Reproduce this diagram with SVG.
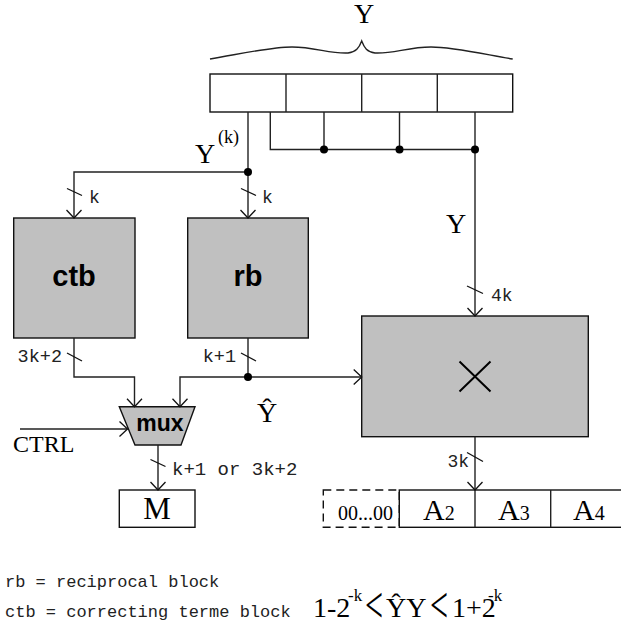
<svg xmlns="http://www.w3.org/2000/svg" width="621" height="633" viewBox="0 0 621 633">
<style>
.ln{fill:none;stroke:#222;stroke-width:1.4}
.bx{fill:#fff;stroke:#111;stroke-width:1.4}
.gb{fill:#c0c0c0;stroke:#111;stroke-width:1.4}
.tk{stroke:#111;stroke-width:1.3}
.dot{fill:#000}
.ser{font-family:"Liberation Serif","Times New Roman",serif;fill:#000}
.mono{font-family:"Liberation Mono","Courier New",monospace;fill:#222}
.bold{font-family:"Liberation Sans",Arial,sans-serif;font-weight:bold;fill:#000}
</style>
<defs>
<marker id="ar" viewBox="-10 -10 20 20" refX="0" refY="0" markerWidth="20" markerHeight="20" markerUnits="userSpaceOnUse" orient="auto" overflow="visible">
<path d="M-8,-7.5 L0,0 L-8,7.5" fill="none" stroke="#111" stroke-width="1.3"/>
</marker>
</defs>

<g id="brace">
<path class="ln" d="M210,59 C240,54 270,47 292,47 C315,47 330,54 348,53 C356,52 359,48 361.7,41 C364.4,48 367,52 375,53 C393,54 408,47 431,47 C453,47 483,54 512.7,59"/>
<text class="ser" x="364" y="23" font-size="28" text-anchor="middle">Y</text>
</g>

<g id="registerY">
<rect class="bx" x="210" y="74" width="302.7" height="38"/>
<line class="ln" x1="286" y1="74" x2="286" y2="112"/>
<line class="ln" x1="361.7" y1="74" x2="361.7" y2="112"/>
<line class="ln" x1="437.3" y1="74" x2="437.3" y2="112"/>
</g>

<g id="ctb">
<rect class="gb" x="13.7" y="218" width="121.3" height="120"/>
<text class="bold" x="74" y="286" font-size="29" text-anchor="middle">ctb</text>
</g>

<g id="rb">
<rect class="gb" x="187.7" y="218" width="120.6" height="120"/>
<text class="bold" x="248" y="286" font-size="29" text-anchor="middle">rb</text>
</g>

<g id="mux">
<path class="gb" d="M119.3,406.7 L195,406.7 L181,445 L135,445 Z"/>
<text class="bold" x="160" y="431" font-size="23" text-anchor="middle">mux</text>
</g>

<g id="M">
<rect class="bx" x="119.3" y="490" width="75.7" height="37.3"/>
<text class="ser" x="157" y="519" font-size="31" text-anchor="middle">M</text>
</g>

<g id="multiplier">
<rect class="gb" x="361.7" y="316" width="226.6" height="120.7"/>
<path d="M459.5,361.5 L490.5,391.5 M490.5,361.5 L459.5,391.5" fill="none" stroke="#000" stroke-width="2"/>
</g>

<g id="registerA">
<rect x="323.3" y="490" width="76" height="37.3" fill="none" stroke="#111" stroke-width="1.4" stroke-dasharray="8,5"/>
<rect class="bx" x="399.3" y="490" width="230" height="37.3"/>
<line class="ln" x1="475" y1="490" x2="475" y2="527.3"/>
<line class="ln" x1="550.7" y1="490" x2="550.7" y2="527.3"/>
<text class="ser" x="338" y="520" font-size="20">00...00</text>
<text class="ser" x="423" y="520" font-size="30">A<tspan font-size="20">2</tspan></text>
<text class="ser" x="498" y="520" font-size="30">A<tspan font-size="20">3</tspan></text>
<text class="ser" x="573" y="520" font-size="30">A<tspan font-size="20">4</tspan></text>
</g>

<g id="connectors">
<line class="ln" x1="248" y1="112" x2="248" y2="172"/>
<path class="ln" d="M248,172 L74,172 L74,218" marker-end="url(#ar)"/>
<path class="ln" d="M248,172 L248,218" marker-end="url(#ar)"/>
<path class="ln" d="M270.3,112 L270.3,149.5 L475,149.5"/>
<line class="ln" x1="324" y1="112" x2="324" y2="149.5"/>
<line class="ln" x1="399.5" y1="112" x2="399.5" y2="149.5"/>
<path class="ln" d="M475,112 L475,316" marker-end="url(#ar)"/>
<path class="ln" d="M74,338 L74,377 L134.5,377 L134.5,406.7" marker-end="url(#ar)"/>
<line class="ln" x1="248" y1="338" x2="248" y2="377"/>
<path class="ln" d="M248,377 L180,377 L180,406.7" marker-end="url(#ar)"/>
<path class="ln" d="M248,377 L361.7,377" marker-end="url(#ar)"/>
<path class="ln" d="M20,429 L127.5,429" marker-end="url(#ar)"/>
<path class="ln" d="M158,445 L158,490" marker-end="url(#ar)"/>
<path class="ln" d="M475,436.7 L475,490" marker-end="url(#ar)"/>
<circle class="dot" cx="248" cy="172" r="4"/>
<circle class="dot" cx="324" cy="149.5" r="4"/>
<circle class="dot" cx="399.5" cy="149.5" r="4"/>
<circle class="dot" cx="475" cy="149.5" r="4"/>
<circle class="dot" cx="248" cy="377" r="4"/>
<line class="tk" x1="67" y1="188.5" x2="82" y2="195.5"/>
<line class="tk" x1="241" y1="188.5" x2="256" y2="195.5"/>
<line class="tk" x1="67" y1="353" x2="82" y2="361"/>
<line class="tk" x1="241" y1="353" x2="256" y2="361"/>
<line class="tk" x1="150.5" y1="459.5" x2="165.5" y2="466.5"/>
<line class="tk" x1="467" y1="286" x2="483" y2="293.5"/>
<line class="tk" x1="467" y1="452.5" x2="483" y2="461.5"/>
</g>

<g id="labels">
<text class="ser" x="195" y="163" font-size="28">Y</text>
<text class="ser" x="218" y="143" font-size="18">(k)</text>
<text class="mono" x="89" y="203" font-size="18">k</text>
<text class="mono" x="262" y="203" font-size="18">k</text>
<text class="ser" x="446" y="233" font-size="28">Y</text>
<text class="mono" x="491" y="301" font-size="18">4k</text>
<text class="mono" x="62" y="362" font-size="18.5" text-anchor="end">3k+2</text>
<text class="mono" x="236" y="362" font-size="18.5" text-anchor="end">k+1</text>
<text class="ser" x="267" y="422" font-size="28" text-anchor="middle">Ŷ</text>
<text class="ser" x="13" y="452" font-size="24">CTRL</text>
<text class="mono" x="172" y="475" font-size="19">k+1 or 3k+2</text>
<text class="mono" x="469" y="467" font-size="18" text-anchor="end">3k</text>
</g>

<g id="legend">
<text class="mono" x="5" y="587" font-size="17">rb = reciprocal block</text>
<text class="mono" x="5" y="617" font-size="17">ctb = correcting terme block</text>
<text class="ser" x="313" y="617" font-size="28">1-2</text>
<text class="ser" x="348" y="601" font-size="17">-k</text>
<text class="ser" font-size="32" transform="translate(365,622) scale(1,1.6)">&lt;</text>
<text class="ser" x="386" y="617" font-size="28">ŶY</text>
<text class="ser" font-size="32" transform="translate(430,622) scale(1,1.6)">&lt;</text>
<text class="ser" x="452" y="617" font-size="28">1+2</text>
<text class="ser" x="488" y="601" font-size="17">-k</text>
</g>
</svg>
